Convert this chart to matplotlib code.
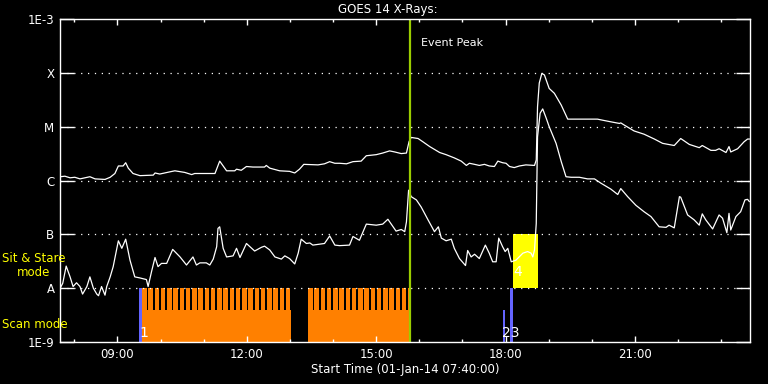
#!/usr/bin/env python
# -*- coding: utf-8 -*-
"""GOES 14 X-Rays — flux plot with scan / sit & stare mode bars"""

import numpy as np
import matplotlib
matplotlib.use('Agg')
import matplotlib.pyplot as plt
from matplotlib.ticker import FixedLocator, MultipleLocator, FuncFormatter

# ---------- data: time in decimal hours (01-Jan-14), flux as log10(W/m^2) ----------
long_t = [7.67, 7.78, 7.90, 8.01, 8.13, 8.36, 8.48, 8.71, 8.83, 8.94, 9.02, 9.13, 9.19,
          9.25, 9.36, 9.52, 9.83, 9.87, 9.98, 10.21, 10.33, 10.56, 10.72, 10.79, 10.91,
          11.26, 11.37, 11.53, 11.72, 11.76, 11.87, 11.99, 12.14, 12.41, 12.45, 12.53,
          12.76, 12.99, 13.11, 13.22, 13.32, 13.65, 13.80, 13.92, 14.04, 14.15, 14.31,
          14.46, 14.65, 14.77, 15.00, 15.15, 15.31, 15.43, 15.58, 15.70, 15.76, 15.81,
          15.97, 16.08, 16.24, 16.47, 16.62, 16.81, 16.97, 17.09, 17.16, 17.28, 17.39,
          17.51, 17.62, 17.74, 17.82, 17.93, 18.01, 18.09, 18.20, 18.32, 18.47, 18.67,
          18.71, 18.74, 18.78, 18.84, 18.90, 19.01, 19.13, 19.29, 19.44, 19.55, 20.13,
          20.25, 20.44, 20.64, 20.67, 20.75, 20.98, 21.21, 21.45, 21.64, 21.91, 22.06,
          22.26, 22.49, 22.56, 22.76, 22.87, 22.95, 23.11, 23.18, 23.22, 23.38, 23.53,
          23.61, 23.65]
long_log = [-5.93, -5.92, -5.95, -5.94, -5.97, -5.93, -5.97, -5.98, -5.94, -5.87, -5.73,
            -5.73, -5.67, -5.77, -5.87, -5.91, -5.90, -5.86, -5.88, -5.84, -5.82, -5.85,
            -5.89, -5.87, -5.87, -5.87, -5.64, -5.82, -5.82, -5.79, -5.81, -5.74, -5.75,
            -5.75, -5.72, -5.77, -5.82, -5.83, -5.86, -5.79, -5.70, -5.71, -5.69, -5.65,
            -5.68, -5.68, -5.69, -5.65, -5.64, -5.54, -5.52, -5.49, -5.45, -5.47, -5.50,
            -5.49, -5.28, -5.20, -5.22, -5.28, -5.37, -5.48, -5.52, -5.58, -5.64, -5.72,
            -5.68, -5.70, -5.72, -5.70, -5.73, -5.74, -5.64, -5.67, -5.68, -5.74, -5.76,
            -5.73, -5.71, -5.72, -5.62, -4.63, -4.19, -4.01, -4.04, -4.29, -4.38, -4.60,
            -4.86, -4.86, -4.86, -4.88, -4.91, -4.94, -4.93, -4.97, -5.08, -5.14, -5.23,
            -5.31, -5.35, -5.22, -5.33, -5.39, -5.35, -5.44, -5.44, -5.41, -5.48, -5.37,
            -5.47, -5.41, -5.28, -5.23, -5.23]

short_t = [7.67, 7.73, 7.81, 7.90, 7.97, 8.05, 8.13, 8.19, 8.29, 8.36, 8.44, 8.52, 8.56,
           8.63, 8.71, 8.75, 8.83, 8.90, 9.02, 9.10, 9.19, 9.29, 9.40, 9.52, 9.67, 9.71,
           9.79, 9.87, 9.94, 10.02, 10.14, 10.28, 10.45, 10.60, 10.75, 10.83, 10.91,
           11.06, 11.14, 11.22, 11.30, 11.33, 11.37, 11.45, 11.53, 11.68, 11.76, 11.84,
           11.99, 12.18, 12.34, 12.41, 12.53, 12.65, 12.80, 12.88, 12.99, 13.11, 13.19,
           13.26, 13.38, 13.46, 13.53, 13.80, 13.92, 14.04, 14.15, 14.38, 14.46, 14.61,
           14.77, 15.00, 15.15, 15.27, 15.39, 15.46, 15.58, 15.66, 15.70, 15.75, 15.81,
           15.93, 16.04, 16.20, 16.35, 16.44, 16.51, 16.62, 16.74, 16.81, 16.93, 17.07,
           17.12, 17.20, 17.28, 17.39, 17.53, 17.62, 17.70, 17.78, 17.84, 17.93, 17.99,
           18.05, 18.13, 18.24, 18.40, 18.51, 18.59, 18.63, 18.67, 18.71, 18.74, 18.80,
           18.86, 18.94, 19.01, 19.17, 19.29, 19.40, 19.52, 19.71, 19.90, 20.06, 20.21,
           20.44, 20.60, 20.67, 20.83, 21.02, 21.21, 21.37, 21.56, 21.72, 21.79, 21.91,
           22.03, 22.06, 22.22, 22.37, 22.49, 22.56, 22.64, 22.80, 22.95, 23.03, 23.13,
           23.18, 23.22, 23.34, 23.45, 23.55, 23.61, 23.65]
short_log = [-8.00, -7.91, -7.59, -7.79, -7.97, -7.90, -7.97, -8.11, -7.97, -7.79, -8.00,
             -8.11, -8.14, -7.97, -8.13, -7.97, -7.79, -7.60, -7.12, -7.26, -7.09, -7.48,
             -7.79, -7.81, -7.84, -7.97, -7.69, -7.43, -7.60, -7.54, -7.54, -7.28, -7.42,
             -7.57, -7.42, -7.57, -7.53, -7.53, -7.57, -7.46, -7.23, -6.89, -6.86, -7.26,
             -7.42, -7.40, -7.26, -7.43, -7.17, -7.31, -7.24, -7.22, -7.29, -7.42, -7.46,
             -7.40, -7.45, -7.55, -7.35, -7.09, -7.17, -7.16, -7.20, -7.17, -7.03, -7.20,
             -7.21, -7.20, -7.04, -7.11, -6.81, -6.83, -6.81, -6.72, -6.86, -6.94, -6.91,
             -6.95, -6.77, -6.18, -6.30, -6.36, -6.49, -6.73, -6.95, -6.86, -7.07, -7.12,
             -7.09, -7.26, -7.45, -7.58, -7.30, -7.42, -7.37, -7.45, -7.20, -7.35, -7.51,
             -7.51, -7.07, -7.23, -7.32, -7.26, -7.51, -7.48, -7.35, -7.32, -7.35, -7.42,
             -7.29, -6.80, -5.19, -4.75, -4.67, -4.84, -5.00, -5.31, -5.65, -5.93, -5.94,
             -5.94, -5.97, -5.97, -6.05, -6.16, -6.26, -6.15, -6.30, -6.46, -6.58, -6.67,
             -6.86, -6.87, -6.83, -6.88, -6.30, -6.31, -6.64, -6.73, -6.83, -6.62, -6.73,
             -6.90, -6.64, -6.70, -6.97, -6.61, -6.92, -6.67, -6.58, -6.36, -6.35, -6.39]

# scan mode blocks (start, end) in hours, scan cadence
scan_blocks = [(9.57, 13.03), (13.42, 15.79)]
scan_period = 0.145
scan_on = 0.105
scan_solid_log = -8.41      # top of the solid orange part

# blue markers (start, end, top log10 flux) and yellow sit & stare box
blue_marks = [(9.50, 9.57, -8.0), (17.93, 17.99, -8.41), (18.09, 18.17, -8.0)]
stare_box = (18.16, 18.75, -8.0, -7.0)
mark_labels = [('1', 9.62, -8.83), ('23', 18.13, -8.83), ('4', 18.27, -7.70)]

event_peak = 15.79
t_range = (7.6667, 23.6667)
ylevels = [1e-9, 1e-8, 1e-7, 1e-6, 1e-5, 1e-4, 1e-3]
ylabels = ['1E-9', 'A', 'B', 'C', 'M', 'X', '1E-3']

ORANGE = '#FF8000'
BLUE = '#6464FF'
YELLOW = '#FFFF00'
GREEN = '#9ACD00'

plt.rcParams['font.family'] = ['DejaVu Sans']

fig = plt.figure(figsize=(7.68, 3.84), dpi=100, facecolor='black')
ax = fig.add_axes([60 / 768, 1 - 342 / 384, 690 / 768, 323 / 384], facecolor='black')
ax.set_yscale('log')
ax.set_xlim(*t_range)
ax.set_ylim(1e-9, 1e-3)

# scan mode orange bars
for start, end in scan_blocks:
    ax.bar(start, 10 ** scan_solid_log - 1e-9, width=end - start, bottom=1e-9,
           align='edge', color=ORANGE, lw=0, antialiased=False)
    starts = np.arange(start, end, scan_period)
    widths = np.minimum(scan_on, end - starts)
    ax.bar(starts, 1e-8 - 1e-9, width=widths, bottom=1e-9,
           align='edge', color=ORANGE, lw=0, antialiased=False)

for s, e, top in blue_marks:
    ax.bar(s, 10 ** top - 1e-9, width=e - s, bottom=1e-9, align='edge', color=BLUE,
           lw=0, antialiased=False)

bs, be, blo, bhi = stare_box
ax.bar(bs, 10 ** bhi - 10 ** blo, width=be - bs, bottom=10 ** blo, align='edge',
       color=YELLOW, lw=0, antialiased=False)

for txt, t, lv in mark_labels:
    ax.text(t, 10 ** lv, txt, color='white', fontsize=10, ha='center', va='center')

# grid
for lvl in ylevels[1:-1]:
    ax.axhline(lvl, color='white', lw=0.9, ls=(0, (1, 4.5)))

# GOES curves
ax.plot(long_t, 10 ** np.array(long_log), color='white', lw=0.9)
ax.plot(short_t, 10 ** np.array(short_log), color='white', lw=0.9)

# event peak
ax.axvline(event_peak, color=GREEN, lw=1.6)
ax.text(16.04, 10 ** -3.45, 'Event Peak', color='white', fontsize=8, ha='left', va='center')

# axes style
for sp in ax.spines.values():
    sp.set_color('white')
    sp.set_linewidth(1)

ax.xaxis.set_major_locator(MultipleLocator(3))
ax.xaxis.set_minor_locator(MultipleLocator(1))
ax.xaxis.set_major_formatter(FuncFormatter(lambda v, p: f'{int(v):02d}:00'))
ax.tick_params(axis='x', which='major', direction='in', top=True, length=4.5, width=1,
               color='white', labelcolor='white', labelsize=8.5, pad=4)
ax.tick_params(axis='x', which='minor', direction='in', top=True, length=2.2, width=1,
               color='white')

ax.yaxis.set_major_locator(FixedLocator(ylevels))
ax.yaxis.set_minor_locator(FixedLocator([]))
ax.set_yticklabels(ylabels)
ax.tick_params(axis='y', which='major', direction='in', right=True, length=10, width=1,
               color='white', labelcolor='white', labelsize=8.5, pad=4)

ax.set_xlabel('Start Time (01-Jan-14 07:40:00)', color='white', fontsize=8.5, labelpad=2)

fig.text(388 / 768, 1 - 9 / 384, 'GOES 14 X-Rays:', color='white', fontsize=8.5,
         ha='center', va='center')
fig.text(34 / 768, 1 - 265 / 384, 'Sit & Stare\nmode', color=YELLOW, fontsize=8.5,
         ha='center', va='center', linespacing=1.1)
fig.text(2 / 768, 1 - 324 / 384, 'Scan mode', color=YELLOW, fontsize=8.5,
         ha='left', va='center')

fig.savefig('out.png', dpi=100, facecolor='black')
